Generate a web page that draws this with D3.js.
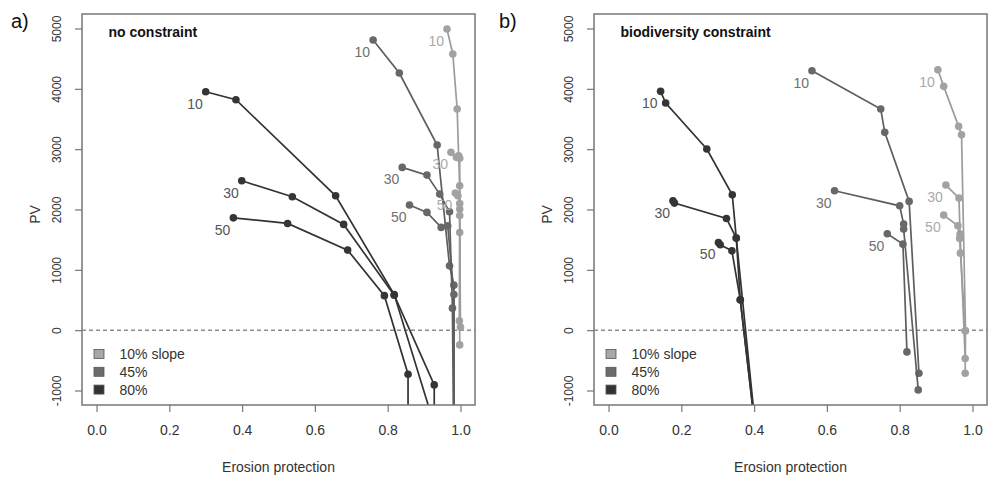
<!DOCTYPE html>
<html>
<head>
<meta charset="utf-8">
<script src="https://cdn.jsdelivr.net/npm/d3@7"></script>
<style>
body { margin: 0; background: #fff; }
text { font-family: "Liberation Sans", Arial, sans-serif; }
</style>
</head>
<body>
<div id="chart"></div>
<script>
const slopeNames = ['10% slope', '45%', '80%'];
const rateLabels = ['10', '30', '50'];
const xTicks = [0, 0.2, 0.4, 0.6, 0.8, 1.0];
const yTicks = [-1000, 0, 1000, 2000, 3000, 4000, 5000];

// each slope: three lines (10, 30, 50), points are [erosion protection, PV]
const noConLight = [
    [[0.963, 4992], [0.979, 4577], [0.991, 3665], [0.995, 2890], [0.998, 2393], [0.998, 1620], [0.997, 154]],
    [[0.974, 2947], [0.989, 2864], [0.998, 2850], [0.998, 2007], [1.0, 50]],
    [[0.986, 2272], [0.993, 2227], [0.998, 2100], [0.998, 1900], [0.998, -244]]
];
const noConMid = [
    [[0.760, 4809], [0.832, 4262], [0.936, 3068], [0.970, 1066], [0.982, 746], [0.983, -3000]],
    [[0.840, 2698], [0.908, 2570], [0.943, 2255], [0.970, 1962], [0.978, 365], [0.983, -3000]],
    [[0.860, 2075], [0.908, 1952], [0.947, 1703], [0.965, 1730], [0.982, 590], [0.983, -3000]]
];
const noConDark = [
    [[0.300, 3952], [0.383, 3819], [0.657, 2227], [0.818, 590], [0.95, -2000]],
    [[0.399, 2476], [0.538, 2211], [0.679, 1753], [0.818, 580], [0.928, -907], [0.928, -3000]],
    [[0.376, 1862], [0.525, 1769], [0.690, 1327], [0.791, 572], [0.856, -730], [0.856, -3000]]
];
const bioLight = [
    [[0.905, 4317], [0.921, 4041], [0.962, 3378], [0.970, 3239], [0.981, -11], [0.980, -713]],
    [[0.927, 2405], [0.963, 2189], [0.966, 1592], [0.980, -469]],
    [[0.921, 1907], [0.960, 1730], [0.965, 1521], [0.967, 1277], [0.980, -11]]
];
const bioMid = [
    [[0.559, 4300], [0.748, 3665], [0.759, 3279], [0.826, 2134], [0.853, -713]],
    [[0.621, 2310], [0.800, 2061], [0.811, 1758], [0.811, 1675], [0.851, -990]],
    [[0.766, 1597], [0.809, 1426], [0.820, -360]]
];
const bioDark = [
    [[0.143, 3958], [0.157, 3765], [0.270, 3002], [0.340, 2244], [0.351, 1526], [0.362, 503], [0.41, -2000]],
    [[0.177, 2144], [0.181, 2106], [0.324, 1852], [0.351, 1526], [0.41, -2000]],
    [[0.302, 1454], [0.307, 1415], [0.339, 1315], [0.362, 503], [0.41, -2000]]
];

const styles = [
    { line: '#9c9c9c', point: '#a2a2a2', label: '#a9a9a9', key: '#a8a8a8' },
    { line: '#5e5e5e', point: '#686868', label: '#707070', key: '#6c6c6c' },
    { line: '#333333', point: '#353535', label: '#555555', key: '#333333' }
];

const width = 993, height = 477;
const plotTop = 14, plotBottom = 405;

const svg = d3.select('#chart').append('svg')
    .attr('width', width)
    .attr('height', height);

const panels = [
    { tag: 'a)', title: 'no constraint', left: 82, right: 475, tagX: 11, series: [noConLight, noConMid, noConDark] },
    { tag: 'b)', title: 'biodiversity constraint', left: 594, right: 987, tagX: 499, series: [bioLight, bioMid, bioDark] }
];

panels.forEach((p, pi) => {
    const x = d3.scaleLinear().domain([-0.04, 1.04]).range([p.left, p.right]);
    const y = d3.scaleLinear().domain([-1240, 5240]).range([plotBottom, plotTop]);
    const g = svg.append('g');

    svg.append('clipPath').attr('id', 'clip' + pi)
        .append('rect')
        .attr('x', p.left).attr('y', plotTop)
        .attr('width', p.right - p.left).attr('height', plotBottom - plotTop);

    // axes
    const gx = g.append('g')
        .attr('transform', `translate(0,${plotBottom})`)
        .call(d3.axisBottom(x).tickValues(xTicks).tickFormat(d3.format('.1f')).tickSize(7));
    gx.select('.domain').remove();
    gx.selectAll('.tick line').attr('stroke', '#777').attr('stroke-width', 1.2);
    gx.selectAll('.tick text')
        .attr('y', 20)
        .attr('font-size', 14)
        .attr('fill', '#333');

    const gy = g.append('g')
        .attr('transform', `translate(${p.left},0)`)
        .call(d3.axisLeft(y).tickValues(yTicks).tickFormat(d => String(d)).tickSize(7));
    gy.select('.domain').remove();
    gy.selectAll('.tick line').attr('stroke', '#777').attr('stroke-width', 1.2);
    gy.selectAll('.tick text')
        .attr('x', 0)
        .attr('dy', 0)
        .attr('text-anchor', 'middle')
        .attr('transform', 'translate(-21.5,0) rotate(-90)')
        .attr('font-size', 12)
        .attr('fill', '#333');

    // zero line
    g.append('line')
        .attr('x1', p.left).attr('x2', p.right)
        .attr('y1', y(0)).attr('y2', y(0))
        .attr('stroke', '#555')
        .attr('stroke-width', 1)
        .attr('stroke-dasharray', '4,3');

    const plot = g.append('g').attr('clip-path', `url(#clip${pi})`);
    const line = d3.line().x(d => x(d[0])).y(d => y(d[1]));

    p.series.forEach((lines, si) => {
        const st = styles[si];
        lines.forEach((pts, li) => {
            plot.append('path')
                .datum(pts)
                .attr('d', line)
                .attr('fill', 'none')
                .attr('stroke', st.line)
                .attr('stroke-width', 1.7);
            plot.selectAll(null)
                .data(pts)
                .enter()
                .append('circle')
                .attr('cx', d => x(d[0]))
                .attr('cy', d => y(d[1]))
                .attr('r', 3.8)
                .attr('fill', st.point);
            // rate label beside first point
            g.append('text')
                .attr('x', x(pts[0][0]) - 3)
                .attr('y', y(pts[0][1]) + 17)
                .attr('text-anchor', 'end')
                .attr('font-size', 14)
                .attr('fill', st.label)
                .text(rateLabels[li]);
        });
    });

    // box
    g.append('rect')
        .attr('x', p.left).attr('y', plotTop)
        .attr('width', p.right - p.left).attr('height', plotBottom - plotTop)
        .attr('fill', 'none')
        .attr('stroke', '#777')
        .attr('stroke-width', 1.5);

    // legend
    slopeNames.forEach((name, i) => {
        const ly = 354 + i * 17.8;
        g.append('rect')
            .attr('x', p.left + 12).attr('y', ly - 4.5)
            .attr('width', 10).attr('height', 9)
            .attr('fill', styles[i].key)
            .attr('stroke', '#555')
            .attr('stroke-width', 0.8);
        g.append('text')
            .attr('x', p.left + 37.5).attr('y', ly + 5)
            .attr('font-size', 14)
            .attr('fill', '#333')
            .text(name);
    });

    g.append('text')
        .attr('x', p.left + 26.5).attr('y', 37)
        .attr('font-size', 14)
        .attr('font-weight', 'bold')
        .attr('fill', '#111')
        .text(p.title);

    g.append('text')
        .attr('x', (p.left + p.right) / 2).attr('y', 472)
        .attr('text-anchor', 'middle')
        .attr('font-size', 14)
        .attr('fill', '#333')
        .text('Erosion protection');

    g.append('text')
        .attr('transform', `translate(${p.left - 42},${(plotTop + plotBottom) / 2 + 5}) rotate(-90)`)
        .attr('text-anchor', 'middle')
        .attr('font-size', 14)
        .attr('fill', '#333')
        .text('PV');

    g.append('text')
        .attr('x', p.tagX).attr('y', 28)
        .attr('font-family', '"Open Sans", "Noto Sans", sans-serif')
        .attr('font-size', 20)
        .attr('fill', '#111')
        .text(p.tag);
});
</script>
</body>
</html>
